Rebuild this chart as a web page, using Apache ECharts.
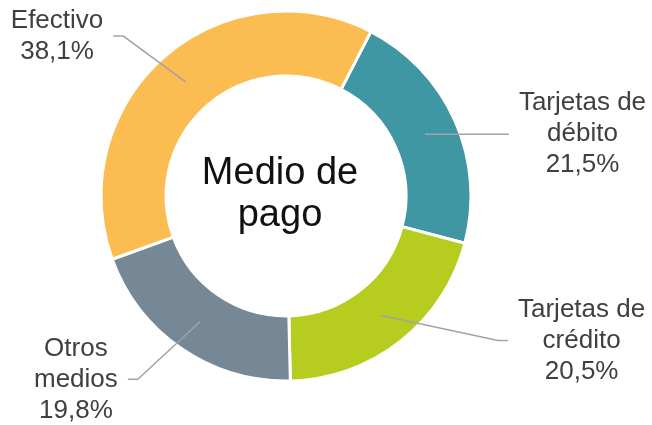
<!DOCTYPE html>
<html>
<head>
<meta charset="utf-8">
<script src="https://cdn.jsdelivr.net/npm/echarts@6/dist/echarts.min.js"></script>
<style>
  html, body { margin: 0; padding: 0; background: #ffffff; }
  #chart { width: 652px; height: 425px; }
</style>
</head>
<body>
<div id="chart"></div>
<script>
// ---- data ----
const categories = ['Tarjetas de\ndébito', 'Tarjetas de\ncrédito', 'Otros\nmedios', 'Efectivo'];
const shares = [21.5, 20.5, 19.8, 38.1];
const centerTitle = 'Medio de\npago';

// ---- styles ----
const colors = ['#4097A4', '#B6CC1F', '#768895', '#FBBC52'];
const lineLengths = [[0, 84], [32, 108], [70, 33], [61, 32]];

const chart = echarts.init(document.getElementById('chart'), null, { renderer: 'canvas' });

function fmtPct(v) {
  return v.toFixed(1).replace('.', ',') + '%';
}

const ringData = categories.map((name, i) => ({
  name: name,
  value: shares[i],
  itemStyle: { color: colors[i] }
}));

const labelData = categories.map((name, i) => ({
  name: name,
  value: shares[i],
  labelLine: { length: lineLengths[i][0], length2: lineLengths[i][1] }
}));

const center = [286, 196];

const option = {
  backgroundColor: '#ffffff',
  animation: false,
  graphic: [{
    type: 'text',
    x: 280,
    y: 194.5,
    style: {
      text: centerTitle,
      fontFamily: 'Liberation Sans, Arial, sans-serif',
      fontSize: 38,
      lineHeight: 42,
      fill: '#111111',
      align: 'center',
      verticalAlign: 'middle'
    }
  }],
  series: [
    {
      type: 'pie',
      z: 2,
      center: center,
      radius: [120, 185],
      startAngle: 62.7,
      clockwise: true,
      silent: true,
      label: { show: false },
      labelLine: { show: false },
      itemStyle: { borderColor: '#ffffff', borderWidth: 3 },
      data: ringData
    },
    {
      type: 'pie',
      z: 5,
      center: center,
      radius: [0, 152],
      startAngle: 62.7,
      clockwise: true,
      silent: true,
      avoidLabelOverlap: false,
      itemStyle: { color: 'rgba(0,0,0,0)', borderWidth: 0 },
      label: {
        show: true,
        position: 'outside',
        alignTo: 'none',
        distanceToLabelLine: 10,
        formatter: function (p) {
          const lines = p.name.split('\n').map(s => '{c|' + s + '}');
          lines.push('{c|' + fmtPct(p.value) + '}');
          return lines.join('\n');
        },
        rich: {
          c: {
            align: 'center',
            fontFamily: 'Liberation Sans, Arial, sans-serif',
            fontSize: 26,
            lineHeight: 31,
            color: '#404040'
          }
        }
      },
      labelLine: {
        show: true,
        smooth: false,
        lineStyle: { color: '#A3A3A3', width: 1.5 }
      },
      labelLayout: function (params) {
        const pts = params.labelLinePoints;
        if (!pts || pts.length < 2) return {};
        const p0 = pts[0];
        const p3 = pts[pts.length - 1];
        const dir = p3[0] > p0[0] ? -1 : 1;
        const bend = [p3[0] + dir * 10, p3[1]];
        return { labelLinePoints: [p0, bend, p3] };
      },
      data: labelData
    }
  ]
};

chart.setOption(option);
</script>
</body>
</html>
